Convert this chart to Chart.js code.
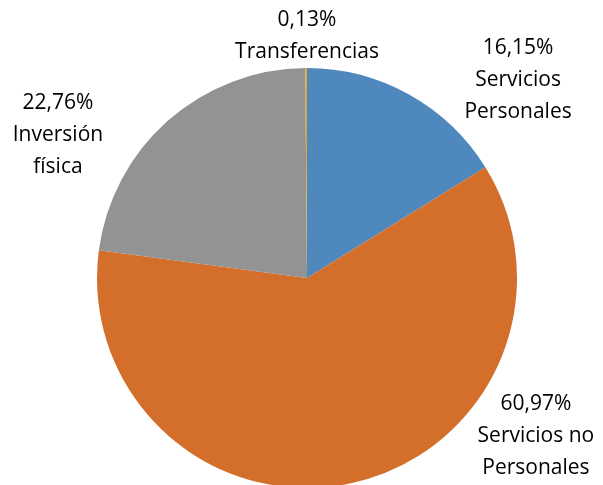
<!DOCTYPE html>
<html>
<head>
<meta charset="utf-8">
<script src="https://cdn.jsdelivr.net/npm/chart.js@4"></script>
<style>
  html, body { margin: 0; padding: 0; background: #fff; overflow: hidden; }
  #wrap { position: relative; width: 603px; height: 490px; }
</style>
</head>
<body>
<div id="wrap"><canvas id="gasto"></canvas></div>
<script>
// categorias y porcentajes del gasto
const categorias = [
  ['Servicios', 'Personales'],
  ['Servicios no', 'Personales'],
  ['Inversión', 'física'],
  ['Transferencias']
];
const porcentajes = [16.15, 60.97, 22.76, 0.13];
const colores = ['#4f88bd', '#d46f2b', '#939393', '#e0a82a'];

// donde va cada etiqueta, relativo al centro y en radios
const posEtiqueta = [
  [1.005, -0.943],
  [1.09, 0.752],
  [-1.186, -0.681],
  [0, -1.152]
];

const etiquetas = {
  id: 'etiquetas',
  afterDatasetsDraw(chart) {
    const ctx = chart.ctx;
    const arcs = chart.getDatasetMeta(0).data;
    ctx.save();
    ctx.font = '21px "Open Sans"';
    ctx.fillStyle = '#000';
    ctx.textAlign = 'center';
    ctx.textBaseline = 'middle';
    arcs.forEach(function (arc, i) {
      const r = arc.outerRadius;
      const cx = arc.x + posEtiqueta[i][0] * r;
      const cy = arc.y + posEtiqueta[i][1] * r;
      const lineas = [porcentajes[i].toFixed(2).replace('.', ',') + '%'].concat(categorias[i]);
      const alto = 32;
      const y0 = cy - (lineas.length - 1) * alto / 2;
      lineas.forEach(function (t, k) {
        ctx.fillText(t, cx, y0 + k * alto);
      });
    });
    ctx.restore();
  }
};

new Chart('gasto', {
  type: 'pie',
  data: {
    labels: categorias,
    datasets: [{
      data: porcentajes,
      backgroundColor: colores,
      borderWidth: 0
    }]
  },
  options: {
    responsive: true,
    maintainAspectRatio: false,
    animation: false,
    layout: { padding: { top: 68, bottom: 2, left: 97, right: 86 } },
    plugins: {
      legend: { display: false },
      tooltip: { enabled: false }
    }
  },
  plugins: [etiquetas]
});
</script>
</body>
</html>
